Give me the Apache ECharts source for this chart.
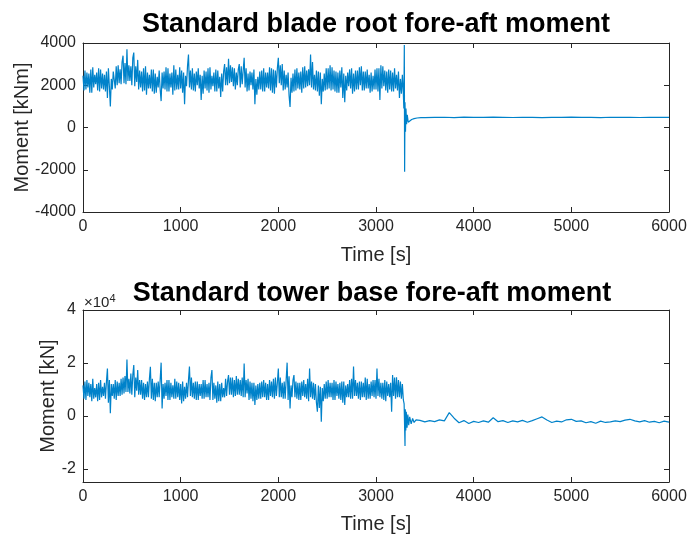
<!DOCTYPE html>
<html>
<head>
<meta charset="utf-8">
<script src="https://cdn.jsdelivr.net/npm/echarts@6/dist/echarts.min.js"></script>
<style>
  html, body { margin: 0; padding: 0; background: #fff; }
  #chart { width: 687px; height: 540px; }
</style>
</head>
<body>
<div id="chart"></div>
<script>
// time axis ticks
const timeTicks = [0, 1000, 2000, 3000, 4000, 5000, 6000];

// blade root moment [kNm], turbulent part (first set of samples)
const bladeNoise = [
  2450, 1750, 2600, 1900, 2750, 1650, 2500, 2050, 2800, 1700,
  2550, 1800, 2650, 1400, 1000, 2300, 2700, 1850, 2950, 2100,
  3100, 3400, 2050, 3700, 2200, 2900, 3550, 1950, 3200, 1800,
  2650, 1700, 2900, 1550, 2500, 1850, 2750, 1600, 2400, 1900,
  1250, 2600, 1800, 2850, 1700, 2550, 1550, 2950, 1800, 2500,
  1850, 2700, 1100, 2450, 3450, 1900, 2800, 1750, 2650, 2000,
  2500, 1300, 2700, 1850, 2800, 1650, 2450, 1950, 2750, 1700,
  2400, 1450, 2650, 3000, 2000, 3250, 2150, 2850, 1800, 2600,
  3000, 1900, 2700, 3300, 1700, 2550, 2000, 2600, 1100, 2300,
  1800, 2650, 1700, 2800, 1900, 2600, 1750, 2800, 1600, 2700,
  3300, 2100, 3000, 1750, 2500, 1900, 970, 2350, 1700, 2750,
  1850, 2600, 1650, 2850, 1900, 2700, 2000, 3450, 1800, 2500,
  1700, 2650, 1100, 2300, 1750, 2800, 1850, 2950, 1800, 2700,
  1650, 2600, 1900, 2850, 1200, 2450, 1950, 2750, 1600, 2550,
  1800, 2700, 2000, 2900, 1750, 2650, 1850, 2500, 1700, 2450,
  1800, 2800, 1300, 2950, 1950, 2700, 1650, 2750, 1700, 2600,
  1850, 2500, 1400, 2300, 1600
];
// second set of samples, high/low pairs
const bladeNoiseMid = [
  2700, 1800, 2550, 1650, 2850, 1900, 2600, 1750, 2750, 1850,
  2500, 1700, 2800, 1950, 2650, 1800, 2900, 2000, 2750, 2050,
  3050, 2100, 2950, 2200, 3300, 2000, 2900, 2150, 2700, 1900,
  2800, 1750, 2600, 1850, 2750, 1700, 2550, 1650, 2700, 1800,
  2650, 1850, 2800, 1700, 2600, 1900, 2750, 1750, 2850, 1800,
  2600, 1650, 2900, 1950, 2700, 1800, 2550, 1700, 2800, 1850,
  2450, 1600, 2650, 1750, 2850, 1800, 2600, 1700, 2700, 1850,
  2550, 1700, 2850, 2000, 2950, 2100, 2800, 1950, 2750, 2000,
  2900, 2050, 2800, 1900, 2650, 1750, 2750, 1800, 2400, 1550,
  2700, 1800, 2600, 1700, 2850, 1850, 2750, 1650, 2800, 1900,
  2950, 2000, 2700, 1800, 2600, 1500, 2550, 1650, 2800, 1750,
  2650, 1800, 2900, 1850, 2750, 1950, 3100, 1900, 2700, 1750,
  2600, 1500, 2550, 1700, 2800, 1800, 2850, 1750, 2650, 1700,
  2700, 1650, 2550, 1400, 2600, 1750, 2800, 1850, 2700, 1700,
  2850, 1800, 2650, 1750, 2750, 1850, 2600, 1650, 2750, 1800,
  2800, 1700, 2900, 1850, 2650, 1750, 2700, 1800, 2800, 1700,
  2650, 1750, 2500, 1600
];
// shutdown transient
const bladeDropTime = [3285, 3290, 3293, 3297, 3302, 3307, 3313, 3320, 3330, 3345, 3365, 3390, 3420, 3460];
const bladeDrop = [900, 3900, -2100, 1200, -200, 900, 150, 600, 250, 330, 380, 420, 450, 465];
// parked, one sample every 100 s from t = 3500
const bladeSteady = [
  470, 478, 485, 472, 488, 480, 476, 490, 482, 474, 486, 479, 470,
  484, 478, 488, 475, 482, 471, 486, 478, 483, 474, 481, 477, 480
];

// tower base moment [kN], turbulent part (first set of samples)
const towerNoise = [
  11500, 6500, 13500, 7500, 12000, 5500, 10500, 7000, 12500, 6000,
  11000, 7500, 13000, 17900, 1000, 12000, 6500, 13500, 7500, 12500,
  8000, 14500, 9000, 21300, 8500, 16000, 19200, 7000, 17300, 8000,
  13500, 6500, 12000, 7000, 14000, 18500, 6000, 12500, 7000, 13000,
  20100, 2800, 12500, 7500, 13500, 6000, 11500, 6500, 13000, 7000,
  12000, 4700, 11000, 6500, 13500, 18600, 7000, 12500, 6000, 13000,
  7500, 12000, 6500, 13500, 7000, 12500, 17300, 6000, 11500, 5000,
  12000, 5500, 10500, 7000, 13000, 15400, 8000, 14500, 7500, 15000,
  8000, 13500, 7000, 19800, 8500, 14000, 6500, 12500, 4100, 11500,
  6500, 12500, 7000, 13500, 6000, 12000, 7500, 13000, 6500, 14500,
  17900, 7000, 12500, 6500, 13500, 20100, 2800, 11500, 15400, 7000,
  12500, 6000, 13000, 7500, 12000, 6500, 17900, 7000, 12500, 6000,
  1600, 11500, -2200, 10500, 6500, 13000, 7000, 12500, 6000, 13500,
  7500, 12000, 6000, 13000, 4100, 11500, 7000, 13500, 6500, 18600,
  7500, 12500, 6000, 13000, 7000, 14500, 6500, 12000, 7500, 13500,
  6500, 17900, 7000, 12500, 6000, 13500, 7500, 12000, 1600, 15400,
  6500, 14600, 7000, 13000, 6000
];
// second set of samples, high/low pairs
const towerNoiseMid = [
  13000, 6000, 12500, 7000, 14000, 6500, 12000, 5500, 13500, 7000,
  12500, 6500, 13500, 5000, 12000, 7500, 13000, 6000, 14000, 7500,
  15000, 8500, 14000, 9000, 15500, 8000, 14500, 9500, 13500, 8000,
  12500, 6000, 13000, 7000, 14000, 6500, 12500, 5500, 13500, 7000,
  12000, 6500, 13500, 6000, 12500, 7000, 14000, 6500, 12500, 6000,
  13000, 5500, 12500, 7000, 14500, 7500, 13000, 6500, 12000, 6000,
  13500, 6500, 12000, 7000, 14500, 6000, 12500, 6500, 13000, 5500,
  12500, 7000, 14000, 7500, 14500, 8000, 13500, 7000, 14000, 8000,
  14500, 7500, 13500, 7000, 13000, 6000, 12500, 5500, 12000, 6000,
  13000, 6500, 12500, 7000, 13500, 6000, 14000, 7000, 12500, 7500,
  14500, 7000, 13000, 6500, 15000, 6000, 13500, 7000, 13000, 6500,
  12500, 6000, 13500, 7000, 14000, 5500, 13000, 6500, 12000, 5000,
  11000, 3000, 12000, 5500, 13500, 6500, 12500, 7000, 13000, 6000,
  12500, 6500, 13000, 5000, 12000, 7000, 14000, 6500, 13500, 7500,
  13000, 6500, 12500, 7000, 14000, 6000, 13000, 6500, 13500, 7000,
  14000, 7500, 12500, 6500, 13000, 5500, 12500, 7000, 14500, 7500,
  13500, 7000, 12000, 6500
];
const towerDropTime = [3288, 3297, 3300, 3305, 3310, 3318, 3326, 3335, 3345, 3360, 3375, 3390, 3410, 3430];
const towerDrop = [4500, -11400, 2500, -5500, 1500, -4500, 500, -3500, -400, -3000, -1000, -2500, -1500, -2200];
// parked, one sample every 50 s from t = 3450
const towerSteady = [
  -1700, -2300, -1800, -2200, -1500, -1900, 1200, -900, -2600, -1800,
  -2900, -2100, -2500, -1900, -2400, -700, -2200, -1800, -2500, -1900,
  -2300, -1700, -2400, -1800, -1100, -400, -1600, -2500, -2000, -2300,
  -1500, -1300, -2100, -1900, -2600, -2200, -2800, -2000, -2500, -2300,
  -1900, -2200, -1600, -1300, -1900, -2300, -1800, -2400, -2100, -2600,
  -2000, -2400
];

// 40 s blocks of four samples, 10 s apart: two from the first set, then the
// high/low pair from the second set, ordered so the signal keeps swinging up and down
function turbulent(vals, mids) {
  const out = [];
  for (let k = 0; 2 * k < vals.length; k++) {
    const t = 40 * k;
    const a = vals[2 * k], b = vals[2 * k + 1];
    out.push([t, a]);
    if (b === undefined) break;
    out.push([t + 10, b]);
    const hi = mids[2 * k], lo = mids[2 * k + 1];
    if (hi === undefined) continue;
    if (a > b) { out.push([t + 20, hi]); out.push([t + 30, lo]); }
    else { out.push([t + 20, lo]); out.push([t + 30, hi]); }
  }
  return out;
}
function sampled(start, step, vals) {
  return vals.map((v, i) => [start + i * step, v]);
}
function paired(times, vals) {
  return vals.map((v, i) => [times[i], v]);
}

const bladeData = turbulent(bladeNoise, bladeNoiseMid)
  .concat(paired(bladeDropTime, bladeDrop))
  .concat(sampled(3500, 100, bladeSteady));
const towerData = turbulent(towerNoise, towerNoiseMid)
  .concat(paired(towerDropTime, towerDrop))
  .concat(sampled(3450, 50, towerSteady));

const axisColor = '#262626';
const lineColor = '#0082CA';
const font = 'Liberation Sans, Arial, Helvetica, sans-serif';
const ticks = { show: true, inside: true, length: 5, lineStyle: { color: axisColor } };

function timeAxis(gridIndex, top) {
  return {
    type: 'value', gridIndex: gridIndex, position: top ? 'top' : 'bottom',
    min: timeTicks[0], max: timeTicks[timeTicks.length - 1], interval: 1000,
    name: top ? '' : 'Time [s]', nameLocation: 'middle', nameGap: gridIndex === 0 ? 33 : 32,
    nameMoveOverlap: false,
    nameTextStyle: { color: axisColor, fontSize: 20, fontFamily: font },
    axisLine: { show: true, onZero: false, lineStyle: { color: axisColor, width: 1 } },
    axisTick: ticks,
    axisLabel: { show: !top, color: axisColor, fontSize: 16, fontFamily: font, margin: 7,
      formatter: v => String(v) },
    splitLine: { show: false }
  };
}

function momentAxis(gridIndex, right, range, name, gap) {
  const ax = {
    type: 'value', gridIndex: gridIndex, position: right ? 'right' : 'left',
    min: range[0], max: range[1],
    axisLine: { show: true, onZero: false, lineStyle: { color: axisColor } },
    axisTick: ticks,
    axisLabel: { show: false },
    splitLine: { show: false }
  };
  if (gridIndex === 0) ax.interval = 2000; else ax.splitNumber = 3;
  if (!right) {
    ax.name = name;
    ax.nameLocation = 'middle';
    ax.nameGap = gap;
    ax.nameMoveOverlap = false;
    ax.nameTextStyle = { color: axisColor, fontSize: 20, fontFamily: font };
    ax.axisLabel = {
      show: true, color: axisColor, fontSize: 16, fontFamily: font, margin: 7,
      formatter: gridIndex === 0
        ? v => String(v)
        : v => (v % 20000 === 0 ? String(v / 10000) : '')
    };
  }
  return ax;
}

const chart = echarts.init(document.getElementById('chart'));
chart.setOption({
  animation: false,
  backgroundColor: '#fff',
  title: [
    { text: 'Standard blade root fore-aft moment', left: 371, top: 6, textAlign: 'center',
      textStyle: { fontSize: 27, fontWeight: 'bold', color: '#000', fontFamily: font } },
    { text: 'Standard tower base fore-aft moment', left: 367, top: 275, textAlign: 'center',
      textStyle: { fontSize: 27, fontWeight: 'bold', color: '#000', fontFamily: font } }
  ],
  graphic: [{
    type: 'text', left: 84, top: 293,
    style: {
      text: '{a|×10}{b|4}',
      rich: {
        a: { fontSize: 15, fill: axisColor, fontFamily: font },
        b: { fontSize: 11, fill: axisColor, fontFamily: font, verticalAlign: 'top', padding: [0, 0, 8, 0] }
      }
    }
  }],
  grid: [
    { left: 83, right: 18, top: 43, height: 169, outerBoundsMode: 'none' },
    { left: 83, right: 18, top: 310, height: 172, outerBoundsMode: 'none' }
  ],
  xAxis: [timeAxis(0, false), timeAxis(0, true), timeAxis(1, false), timeAxis(1, true)],
  yAxis: [
    momentAxis(0, false, [-4000, 4000], 'Moment [kNm]', 51),
    momentAxis(0, true, [-4000, 4000]),
    momentAxis(1, false, [-25000, 40000], 'Moment [kN]', 25),
    momentAxis(1, true, [-25000, 40000])
  ],
  series: [
    {
      type: 'line', xAxisIndex: 0, yAxisIndex: 0, data: bladeData,
      showSymbol: false, lineStyle: { color: lineColor, width: 1.2 }
    },
    {
      type: 'line', xAxisIndex: 2, yAxisIndex: 2, data: towerData,
      showSymbol: false, lineStyle: { color: lineColor, width: 1.2 }
    }
  ]
});
</script>
</body>
</html>
